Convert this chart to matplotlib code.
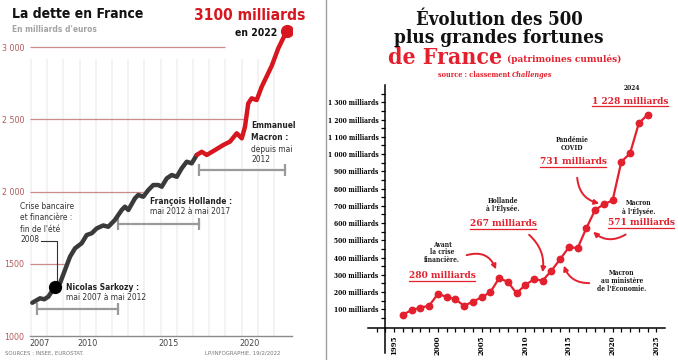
import matplotlib.pyplot as plt
import numpy as np
from matplotlib.lines import Line2D
from matplotlib.patches import FancyArrowPatch

debt_years = [2007.08, 2007.56, 2007.82, 2008.07, 2008.48, 2008.79, 2009.10, 2009.41,
              2009.72, 2010.13, 2010.44, 2010.75, 2011.06, 2011.46, 2011.77, 2012.18,
              2012.60, 2012.80, 2013.01, 2013.42, 2013.62, 2013.93, 2014.24, 2014.55,
              2014.86, 2015.07, 2015.38, 2015.69, 2016.00, 2016.30, 2016.61, 2016.92,
              2017.23, 2017.54, 2017.85, 2018.36, 2018.87, 2019.28, 2019.70, 2020.01,
              2020.21, 2020.41, 2020.62, 2020.93, 2021.24, 2021.44, 2021.86, 2022.26,
              2022.78]
debt_values = [1230, 1261, 1254, 1272, 1341, 1365, 1457, 1549,
               1607, 1642, 1699, 1711, 1745, 1765, 1756, 1803,
               1872, 1895, 1872, 1953, 1976, 1964, 2010, 2045,
               2045, 2033, 2091, 2114, 2102, 2160, 2206, 2195,
               2253, 2275, 2253, 2287, 2322, 2345, 2403, 2368,
               2449, 2610, 2645, 2633, 2725, 2772, 2870, 2990,
               3110]
split_idx = 32      # debut de la partie rouge (mai 2017)
crisis_idx = 4      # point noir : crise de 2008

debt_levels = [1500, 2000, 2500, 3000]
debt_level_labels = ['1500', '2 000', '2 500', '3 000']
grid_ends = [2009.1, 2013.9, 2020.2, 2019.0]
debt_year_ticks = [2007, 2010, 2015, 2020]
mandates = [(2007.37, 2012.37), (2012.37, 2017.37), (2017.37, 2022.7)]

fortune_years = list(range(1996, 2025))
fortune_values = [69, 96, 110, 121, 189, 173, 158, 121, 144, 170, 199, 280, 260, 193,
                  241, 274, 267, 324, 391, 460, 455, 571, 676, 709, 731, 955, 1004,
                  1178, 1228]
fortune_ticks = list(range(100, 1301, 100))
fortune_tick_labels = [f"{v:,}".replace(",", " ") + " milliards" for v in fortune_ticks]

W, H = 678, 360
RED = '#d7161f'
RED2 = '#e3202d'
DARK = '#333333'
SANS = 'DejaVu Sans'
SERIF = 'DejaVu Serif'
CND = 'condensed'


def fx(x):
    return x / W


def fy(y):
    return 1 - y / H


def note(x, y, s, size, bold=False, **kw):
    kw.setdefault('va', 'center')
    kw.setdefault('color', DARK)
    return fig.text(fx(x), fy(y), s, family=SANS, fontstretch=CND, fontsize=size,
                    fontweight='bold' if bold else 'normal', **kw)


fig = plt.figure(figsize=(W / 100, H / 100), dpi=100)
fig.patch.set_facecolor('white')

# ================= LEFT =================
axL = fig.add_axes([30 / W, 24 / H, 262 / W, 316 / H])
axL.set_xlim(2006.94, 2023.11)
axL.set_ylim(1000, 3187)
for s in ['top', 'right', 'left']:
    axL.spines[s].set_visible(False)
axL.spines['bottom'].set_color('#8a8a8a')
axL.spines['bottom'].set_linewidth(1.0)

axL.vlines(range(2007, 2023), 1000, 2920, color='#f1f1f1', lw=1.2, zorder=0)
axL.hlines(debt_levels, 2006.94, grid_ends, color='#c98a8a', lw=0.9, zorder=1)

axL.set_yticks(debt_levels + [1000])
axL.set_yticklabels(debt_level_labels + ['1000'], family=SANS, fontstretch=CND,
                    fontsize=6.3, color='#b25a5a')
axL.set_xticks([y + 0.5 for y in debt_year_ticks])
axL.set_xticklabels([str(y) for y in debt_year_ticks], family=SANS, fontstretch=CND,
                    fontsize=6.5, color='#444444')
axL.tick_params(length=0, pad=4)
axL.tick_params(axis='x', pad=2.5)

axL.plot(debt_years[:split_idx + 1], debt_values[:split_idx + 1], color='#3a3a3a', lw=3.2,
         solid_joinstyle='round', solid_capstyle='round', zorder=3)
axL.plot(debt_years[split_idx:], debt_values[split_idx:], color=RED, lw=3.2,
         solid_joinstyle='round', solid_capstyle='round', zorder=3)
axL.plot(debt_years[-1], debt_values[-1], 'o', ms=8.5, color=RED, zorder=4)
axL.plot(debt_years[crisis_idx], debt_values[crisis_idx], 'o', ms=8.5, color='black', zorder=4)

# trait de rappel vers la crise
cy = debt_values[crisis_idx]
axL.plot([debt_years[crisis_idx] + 0.1] * 2 + [2007.62], [cy, 1657, 1657], color=DARK, lw=0.8, zorder=2)

# accolades des mandats
for (a, b), lev in zip(mandates, [1187, 1775, 2149]):
    axL.plot([a, b], [lev, lev], color='#9a9a9a', lw=1.6, marker='|', ms=8, mew=1.6, clip_on=False)

note(12, 14, 'La dette en France', 10, True, color='#111111')
note(12, 30, "En milliards d'euros", 6, True, color='#a3a3a3')
note(305, 15, '3100 milliards', 11.2, True, color=RED, ha='right')
note(277, 33, 'en 2022', 7.5, True, color='#111111', ha='right')

note(251, 126, 'Emmanuel', 6, True, color='#222222')
note(251, 137, 'Macron :', 6, True, color='#222222')
note(251, 149, 'depuis mai', 6)
note(251, 160, '2012', 6)
note(150, 201, 'François Hollande :', 6, True, color='#222222')
note(150, 212, 'mai 2012 à mai 2017', 6)
note(66, 287, 'Nicolas Sarkozy :', 6, True, color='#222222')
note(66, 298, 'mai 2007 à mai 2012', 6)
for i, s in enumerate(['Crise bancaire', 'et financière :', "fin de l'été", '2008']):
    note(20, 207 + 11 * i, s, 6)

note(5, 353, 'SOURCES : INSEE, EUROSTAT.', 4.3, color='#777777')
note(205, 353, 'LP/INFOGRAPHIE. 19/2/2022', 4.3, color='#777777')

fig.add_artist(Line2D([fx(325.5)] * 2, [0, 1], color='#a0a0a0', lw=1))

# ================= RIGHT =================
axR = fig.add_axes([368 / W, 7 / H, 297 / W, 268 / H])
axR.set_xlim(1992, 2026)
axR.set_ylim(-153, 1400)
axR.patch.set_alpha(0)
axR.spines['top'].set_visible(False)
axR.spines['right'].set_visible(False)
axR.spines['left'].set_position(('data', 1994))
axR.spines['bottom'].set_position(('data', -10))
for s in ['left', 'bottom']:
    axR.spines[s].set_linewidth(1.1)

axR.set_xticks(range(1995, 2026, 5))
axR.set_xticklabels([str(y) for y in range(1995, 2026, 5)], rotation=90, family=SERIF,
                    fontsize=5, fontweight='bold')
axR.set_xticks(range(1993, 2026), minor=True)
axR.set_yticks(fortune_ticks)
axR.set_yticklabels(fortune_tick_labels, family=SERIF, fontstretch=CND, fontsize=4.8,
                    fontweight='bold')
axR.set_yticks(range(50, 1351, 50), minor=True)
axR.tick_params(which='both', length=3, width=0.9, pad=2)

axR.plot(fortune_years, fortune_values, color=RED2, lw=1.6, marker='o', ms=4.6, zorder=3)


def stitle(x, y, s, size, color='#111111', **kw):
    kw.setdefault('ha', 'center')
    kw.setdefault('va', 'baseline')
    return fig.text(fx(x), fy(y), s, family=SERIF, fontstretch=CND, fontsize=size,
                    fontweight='bold', color=color, **kw)


stitle(499, 25, 'Évolution des 500', 13.3)
stitle(499, 43, 'plus grandes fortunes', 13.6)
stitle(502, 64, 'de France', 16.5, RED2, ha='right')
stitle(507, 62, '(patrimoines cumulés)', 7.2, RED2, ha='left')
stitle(512, 77, 'source : classement ', 5.2, RED2, ha='right')
stitle(512, 77, 'Challenges', 5.2, RED2, ha='left', style='italic')

big = []
for (x, y, s) in [(630, 101.5, '1 228 milliards'), (573, 162, '731 milliards'),
                  (503, 224, '267 milliards'), (641, 222.5, '571 milliards'),
                  (442, 276, '280 milliards')]:
    big.append(stitle(x, y, s, 7.2, RED2, va='center'))

for (x, y, s) in [(632, 88, '2024'), (572, 144, 'Pandémie\nCOVID'),
                  (503, 205, "Hollande\nà l'Élysée."), (442, 252.5, 'Avant\nla crise\nfinancière.'),
                  (639, 207.5, "Macron\nà l'Élysée."),
                  (622, 281, "Macron\nau ministère\nde l'Économie.")]:
    stitle(x, y, s, 4.8, '#1a1a1a', va='center', linespacing=0.95)

arrows = [((464, 256), (497, 272), -0.5), ((527, 233), (542, 275), -0.3),
          ((577, 175), (602, 204), 0.4), ((628, 233), (591, 230), -0.4),
          ((592, 283), (563, 263), -0.4)]
for (a, b, rad) in arrows:
    fig.add_artist(FancyArrowPatch(
        (fx(a[0]), fy(a[1])), (fx(b[0]), fy(b[1])), transform=fig.transFigure,
        connectionstyle=f'arc3,rad={rad}', arrowstyle='-|>', mutation_scale=7,
        color=RED2, lw=1.4))

fig.canvas.draw()
for t in big:
    bb = t.get_window_extent()
    yb = (bb.y0 - 0.5) / H
    fig.add_artist(Line2D([bb.x0 / W, bb.x1 / W], [yb, yb], color=RED2, lw=0.9))

fig.savefig('out.png', dpi=100)
